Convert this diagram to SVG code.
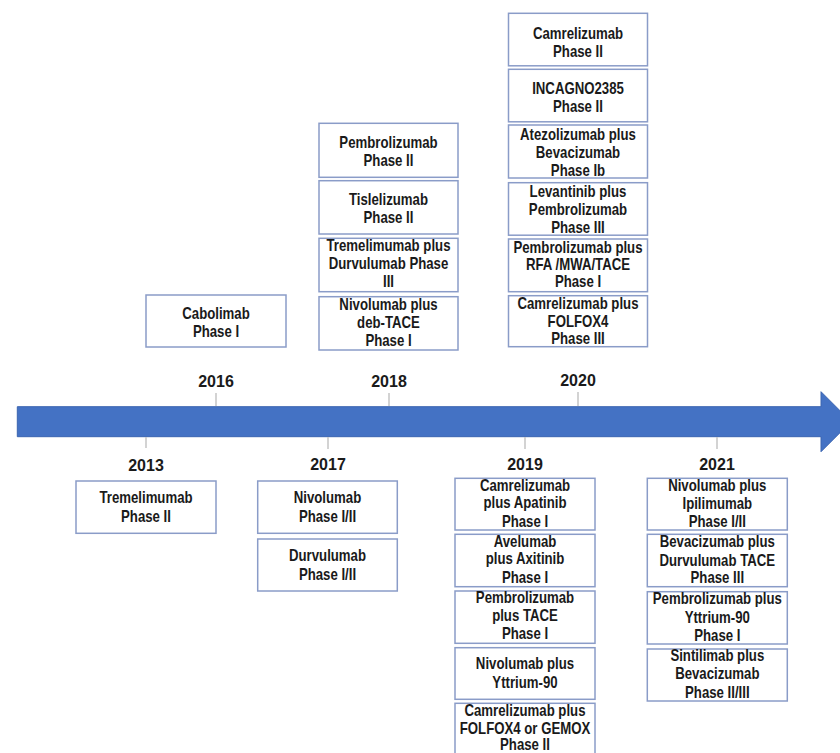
<svg xmlns="http://www.w3.org/2000/svg" width="840" height="753" viewBox="0 0 840 753">
<style>
.bx{fill:#ffffff;stroke:#8a9cc8;stroke-width:1.5}
.t{font-family:"Liberation Sans",Arial,sans-serif;font-weight:bold;font-size:16.5px;fill:#1a1a1a;text-anchor:middle}
.yr{font-family:"Liberation Sans",Arial,sans-serif;font-weight:bold;font-size:16px;fill:#1a1a1a;text-anchor:middle}
.tick{stroke:#c4c4c4;stroke-width:1.5}
</style>
<rect width="840" height="753" fill="#ffffff"/>
<g id="connectors">
<path d="M17.3,406.7 H821 V391.7 L851,421.7 L821,451.7 V436.7 H17.3 Z" fill="#4472c4" stroke="#3b64b0" stroke-width="1"/>
<line class="tick" x1="216" y1="393" x2="216" y2="406"/>
<line class="tick" x1="389" y1="393" x2="389" y2="406"/>
<line class="tick" x1="578" y1="392" x2="578" y2="406"/>
<line class="tick" x1="146" y1="437" x2="146" y2="448"/>
<line class="tick" x1="328" y1="437" x2="328" y2="449"/>
<line class="tick" x1="525" y1="437" x2="525" y2="449"/>
<line class="tick" x1="717" y1="437" x2="717" y2="449"/>
</g>
<g id="years">
<text class="yr" x="216" y="387">2016</text>
<text class="yr" x="389" y="387">2018</text>
<text class="yr" x="578" y="386">2020</text>
<text class="yr" x="146" y="470.5">2013</text>
<text class="yr" x="328" y="469.5">2017</text>
<text class="yr" x="525" y="469.5">2019</text>
<text class="yr" x="717" y="469.5">2021</text>
</g>
<g id="n2020a"><rect class="bx" x="508.5" y="13.3" width="139" height="52.5"/><g transform="translate(578,0) scale(0.8,1)"><text class="t" x="0" y="39">Camrelizumab</text><text class="t" x="0" y="57">Phase II</text></g></g>
<g id="n2020b"><rect class="bx" x="508.5" y="69.3" width="139" height="52.5"/><g transform="translate(578,0) scale(0.8,1)"><text class="t" x="0" y="94.5">INCAGNO2385</text><text class="t" x="0" y="112.5">Phase II</text></g></g>
<g id="n2020c"><rect class="bx" x="508.5" y="125" width="139" height="53"/><g transform="translate(578,0) scale(0.8,1)"><text class="t" x="0" y="140.5">Atezolizumab plus</text><text class="t" x="0" y="158.5">Bevacizumab</text><text class="t" x="0" y="176.3">Phase Ib</text></g></g>
<g id="n2020d"><rect class="bx" x="508.5" y="182.7" width="139" height="52.5"/><g transform="translate(578,0) scale(0.8,1)"><text class="t" x="0" y="197">Levantinib plus</text><text class="t" x="0" y="215">Pembrolizumab</text><text class="t" x="0" y="232.7">Phase III</text></g></g>
<g id="n2020e"><rect class="bx" x="508.5" y="239" width="139" height="52.7"/><g transform="translate(578,0) scale(0.8,1)"><text class="t" x="0" y="252.7">Pembrolizumab plus</text><text class="t" x="0" y="270">RFA /MWA/TACE</text><text class="t" x="0" y="287.3">Phase I</text></g></g>
<g id="n2020f"><rect class="bx" x="508.5" y="295.7" width="139" height="51"/><g transform="translate(578,0) scale(0.8,1)"><text class="t" x="0" y="309.5">Camrelizumab plus</text><text class="t" x="0" y="327">FOLFOX4</text><text class="t" x="0" y="344.5">Phase III</text></g></g>
<g id="n2018a"><rect class="bx" x="319" y="123.3" width="139" height="54"/><g transform="translate(388.5,0) scale(0.8,1)"><text class="t" x="0" y="148.3">Pembrolizumab</text><text class="t" x="0" y="166">Phase II</text></g></g>
<g id="n2018b"><rect class="bx" x="319" y="180.7" width="139" height="53.3"/><g transform="translate(388.5,0) scale(0.8,1)"><text class="t" x="0" y="205.5">Tislelizumab</text><text class="t" x="0" y="223.5">Phase II</text></g></g>
<g id="n2018c"><rect class="bx" x="319" y="238.3" width="139" height="53.4"/><g transform="translate(388.5,0) scale(0.8,1)"><text class="t" x="0" y="251.5">Tremelimumab plus</text><text class="t" x="0" y="269.5">Durvulumab Phase</text><text class="t" x="0" y="287.5">III</text></g></g>
<g id="n2018d"><rect class="bx" x="319" y="296.7" width="139" height="53.3"/><g transform="translate(388.5,0) scale(0.8,1)"><text class="t" x="0" y="310">Nivolumab plus</text><text class="t" x="0" y="327.7">deb-TACE</text><text class="t" x="0" y="345.7">Phase I</text></g></g>
<g id="n2016"><rect class="bx" x="146" y="295" width="140" height="52"/><g transform="translate(216,0) scale(0.8,1)"><text class="t" x="0" y="319.3">Cabolimab</text><text class="t" x="0" y="337.3">Phase I</text></g></g>
<g id="n2013"><rect class="bx" x="76" y="481" width="140" height="52.3"/><g transform="translate(146,0) scale(0.8,1)"><text class="t" x="0" y="503.3">Tremelimumab</text><text class="t" x="0" y="522.3">Phase II</text></g></g>
<g id="n2017a"><rect class="bx" x="257.7" y="481" width="139.6" height="52.3"/><g transform="translate(327.5,0) scale(0.8,1)"><text class="t" x="0" y="503.3">Nivolumab</text><text class="t" x="0" y="522.3">Phase I/II</text></g></g>
<g id="n2017b"><rect class="bx" x="257.7" y="539" width="139.6" height="52"/><g transform="translate(327.5,0) scale(0.8,1)"><text class="t" x="0" y="561">Durvulumab</text><text class="t" x="0" y="580">Phase I/II</text></g></g>
<g id="n2019a"><rect class="bx" x="455" y="478.3" width="140" height="51.7"/><g transform="translate(525,0) scale(0.8,1)"><text class="t" x="0" y="490.7">Camrelizumab</text><text class="t" x="0" y="508.3">plus Apatinib</text><text class="t" x="0" y="526.7">Phase I</text></g></g>
<g id="n2019b"><rect class="bx" x="455" y="534.3" width="140" height="52.4"/><g transform="translate(525,0) scale(0.8,1)"><text class="t" x="0" y="546.7">Avelumab</text><text class="t" x="0" y="564.5">plus Axitinib</text><text class="t" x="0" y="582.7">Phase I</text></g></g>
<g id="n2019c"><rect class="bx" x="455" y="591" width="140" height="52.3"/><g transform="translate(525,0) scale(0.8,1)"><text class="t" x="0" y="603.5">Pembrolizumab</text><text class="t" x="0" y="621.5">plus TACE</text><text class="t" x="0" y="639.5">Phase I</text></g></g>
<g id="n2019d"><rect class="bx" x="455" y="647.7" width="140" height="51.6"/><g transform="translate(525,0) scale(0.8,1)"><text class="t" x="0" y="669.3">Nivolumab plus</text><text class="t" x="0" y="688.3">Yttrium-90</text></g></g>
<g id="n2019e"><rect class="bx" x="455" y="703.3" width="140" height="60"/><g transform="translate(525,0) scale(0.8,1)"><text class="t" x="0" y="716">Camrelizumab plus</text><text class="t" x="0" y="734">FOLFOX4 or GEMOX</text><text class="t" x="0" y="750.5">Phase II</text></g></g>
<g id="n2021a"><rect class="bx" x="647.3" y="478.3" width="140" height="51.7"/><g transform="translate(717.3,0) scale(0.8,1)"><text class="t" x="0" y="490.7">Nivolumab plus</text><text class="t" x="0" y="509.3">Ipilimumab</text><text class="t" x="0" y="527.3">Phase I/II</text></g></g>
<g id="n2021b"><rect class="bx" x="647.3" y="534.3" width="140" height="52.4"/><g transform="translate(717.3,0) scale(0.8,1)"><text class="t" x="0" y="546.7">Bevacizumab plus</text><text class="t" x="0" y="565.7">Durvulumab TACE</text><text class="t" x="0" y="583.3">Phase III</text></g></g>
<g id="n2021c"><rect class="bx" x="647.3" y="591.7" width="140" height="52.3"/><g transform="translate(717.3,0) scale(0.8,1)"><text class="t" x="0" y="604.3">Pembrolizumab plus</text><text class="t" x="0" y="622.7">Yttrium-90</text><text class="t" x="0" y="640.7">Phase I</text></g></g>
<g id="n2021d"><rect class="bx" x="647.3" y="649" width="140" height="52"/><g transform="translate(717.3,0) scale(0.8,1)"><text class="t" x="0" y="660.7">Sintilimab plus</text><text class="t" x="0" y="679.3">Bevacizumab</text><text class="t" x="0" y="697.7">Phase II/III</text></g></g>
</svg>
